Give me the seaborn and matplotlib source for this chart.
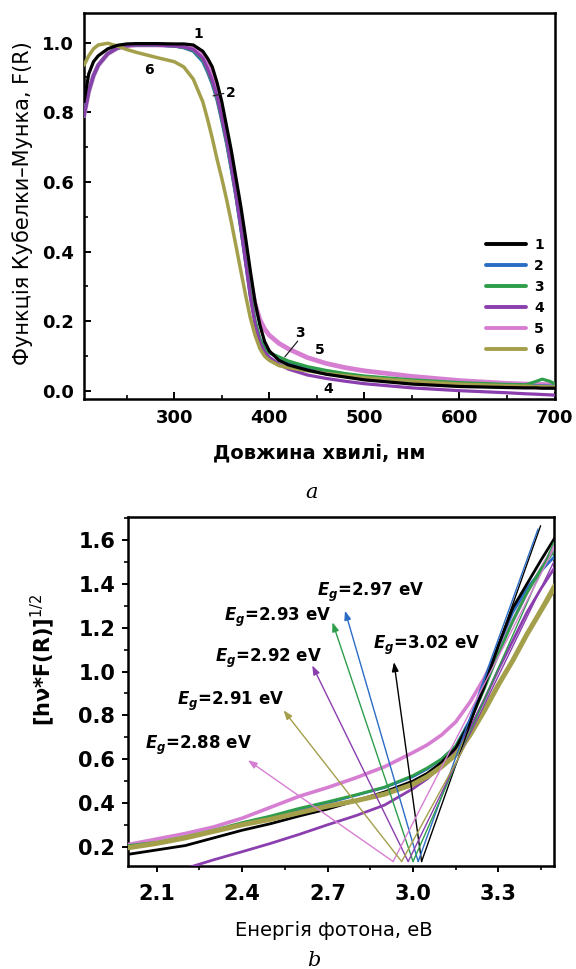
import numpy as np
import pandas as pd
import matplotlib
matplotlib.use("Agg")
import matplotlib.pyplot as plt
from matplotlib.ticker import MultipleLocator
import seaborn as sns

# ---------------- data: panel a ----------------
wavelength = [205, 210, 215, 220, 230, 240, 250, 260, 280, 300, 310, 320, 330, 335, 340,
              345, 350, 355, 360, 365, 370, 375, 380, 385, 390, 395, 400, 410, 420, 440,
              460, 480, 500, 550, 600, 650, 670, 680, 687, 695, 701]
fr_1 = [0.83, 0.91, 0.945, 0.962, 0.982, 0.992, 0.996, 0.997, 0.997, 0.996, 0.996, 0.993, 0.975, 0.955, 0.93,
        0.885, 0.83, 0.76, 0.69, 0.61, 0.53, 0.44, 0.345, 0.255, 0.19, 0.142, 0.115, 0.088, 0.075, 0.06,
        0.048, 0.04, 0.032, 0.02, 0.013, 0.01, 0.009, 0.009, 0.008, 0.008, 0.008]
fr_2 = [0.79, 0.86, 0.905, 0.935, 0.968, 0.984, 0.991, 0.993, 0.993, 0.99, 0.985, 0.975, 0.945, 0.915, 0.88,
        0.835, 0.775, 0.71, 0.635, 0.555, 0.465, 0.37, 0.275, 0.2, 0.15, 0.123, 0.11, 0.095, 0.082, 0.066,
        0.056, 0.048, 0.041, 0.03, 0.022, 0.017, 0.016, 0.015, 0.015, 0.014, 0.014]
fr_3 = [0.79, 0.86, 0.905, 0.935, 0.968, 0.984, 0.991, 0.993, 0.993, 0.99, 0.986, 0.978, 0.95, 0.92, 0.885,
        0.84, 0.78, 0.715, 0.64, 0.56, 0.47, 0.375, 0.28, 0.2, 0.148, 0.122, 0.11, 0.098, 0.086, 0.07,
        0.059, 0.05, 0.043, 0.032, 0.024, 0.019, 0.018, 0.027, 0.034, 0.028, 0.02]
fr_4 = [0.79, 0.86, 0.905, 0.935, 0.968, 0.984, 0.991, 0.993, 0.993, 0.99, 0.987, 0.98, 0.955, 0.925, 0.89,
        0.845, 0.785, 0.72, 0.645, 0.56, 0.47, 0.37, 0.27, 0.19, 0.14, 0.112, 0.097, 0.077, 0.063, 0.046,
        0.036, 0.028, 0.021, 0.009, 0.001, -0.005, -0.008, -0.009, -0.01, -0.011, -0.012]
fr_5 = [0.79, 0.86, 0.905, 0.935, 0.968, 0.984, 0.991, 0.993, 0.993, 0.992, 0.99, 0.985, 0.962, 0.94, 0.91,
        0.865, 0.805, 0.74, 0.665, 0.585, 0.495, 0.405, 0.315, 0.25, 0.205, 0.178, 0.16, 0.137, 0.121, 0.096,
        0.079, 0.067, 0.058, 0.042, 0.03, 0.022, 0.02, 0.019, 0.019, 0.018, 0.018]
fr_6 = [0.935, 0.962, 0.982, 0.993, 0.998, 0.99, 0.98, 0.972, 0.958, 0.945, 0.93, 0.895, 0.83, 0.78, 0.725,
        0.665, 0.61, 0.55, 0.485, 0.415, 0.345, 0.275, 0.21, 0.16, 0.122, 0.1, 0.088, 0.073, 0.067, 0.058,
        0.05, 0.044, 0.038, 0.028, 0.02, 0.015, 0.014, 0.013, 0.013, 0.012, 0.012]
sample_labels = ["1", "2", "3", "4", "5", "6"]

# curve number labels on panel a
num_text = ["1", "2", "6", "3", "5", "4"]
num_x = [325.2, 359.2, 272.9, 431.8, 453.5, 462.0]
num_y = [1.024, 0.856, 0.921, 0.166, 0.117, 0.006]
lead_x0 = [340.8, 416.3]
lead_y0 = [0.847, 0.098]
lead_x1 = [352.1, 429.8]
lead_y1 = [0.854, 0.143]

# ---------------- data: panel b ----------------
energy = [2.0, 2.1, 2.2, 2.3, 2.4, 2.5, 2.6, 2.7, 2.8, 2.9, 3.0, 3.05, 3.1, 3.15, 3.2,
          3.25, 3.3, 3.35, 3.4, 3.45, 3.5]
tauc_1 = [0.165, 0.185, 0.205, 0.24, 0.275, 0.305, 0.34, 0.372, 0.41, 0.45, 0.50, 0.535, 0.585, 0.65, 0.77,
          0.93, 1.12, 1.29, 1.40, 1.51, 1.615]
tauc_2 = [0.20, 0.215, 0.24, 0.27, 0.30, 0.335, 0.365, 0.40, 0.435, 0.47, 0.52, 0.555, 0.60, 0.66, 0.78,
          0.95, 1.12, 1.27, 1.38, 1.46, 1.53]
tauc_3 = [0.205, 0.22, 0.245, 0.275, 0.31, 0.34, 0.375, 0.405, 0.437, 0.472, 0.525, 0.56, 0.60, 0.66, 0.77,
          0.92, 1.08, 1.23, 1.36, 1.47, 1.56]
tauc_4 = [np.nan, np.nan, 0.10, 0.14, 0.177, 0.215, 0.256, 0.30, 0.342, 0.39, 0.465, 0.51, 0.57, 0.64, 0.74,
          0.87, 1.01, 1.14, 1.27, 1.38, 1.48]
tauc_5 = [0.21, 0.235, 0.26, 0.29, 0.33, 0.38, 0.43, 0.47, 0.515, 0.565, 0.63, 0.665, 0.71, 0.77, 0.86,
          0.97, 1.10, 1.23, 1.36, 1.47, 1.58]
tauc_6 = [0.195, 0.215, 0.24, 0.27, 0.30, 0.325, 0.355, 0.385, 0.41, 0.44, 0.485, 0.52, 0.565, 0.62, 0.71,
          0.82, 0.94, 1.05, 1.17, 1.28, 1.39]

# tangent (extrapolation) lines, order: samples 1..6
tan_e0 = [3.030, 3.018, 3.000, 2.983, 2.930, 2.960]
tan_y0 = [0.132, 0.132, 0.132, 0.132, 0.132, 0.132]
tan_e1 = [3.448, 3.439, 3.494, 3.494, 3.494, 3.494]
tan_y1 = [1.666, 1.651, 1.59, 1.50, 1.56, 1.40]
# arrows to the Eg labels
arr_e = [2.933, 2.761, 2.717, 2.646, 2.420, 2.545]
arr_y = [1.043, 1.278, 1.225, 1.028, 0.595, 0.823]
eg_values = ["3.02", "2.97", "2.93", "2.92", "2.88", "2.91"]
eg_text_e = [2.860, 2.664, 2.337, 2.305, 2.059, 2.170]
eg_text_y = [1.104, 1.346, 1.233, 1.043, 0.648, 0.845]

colors = ["#000000", "#2b6cc4", "#2e9e4a", "#8b3fae", "#d67fd2", "#a39f4b"]

# ---------------- style ----------------
sns.set_style("ticks")
plt.rcParams["font.family"] = ["DejaVu Sans"]
plt.rcParams["mathtext.fontset"] = "dejavusans"
for key in ["text.color", "axes.labelcolor", "xtick.color", "ytick.color", "axes.edgecolor"]:
    plt.rcParams[key] = "black"

fig = plt.figure(figsize=(5.76, 9.69), dpi=100)
ax1 = fig.add_axes([0.1458, 0.5882, 0.8177, 0.3981])
ax2 = fig.add_axes([0.2227, 0.1066, 0.7391, 0.3599])

# ---------------- panel a ----------------
fr_all = [fr_1, fr_2, fr_3, fr_4, fr_5, fr_6]
lw_a = [2.3, 2.3, 2.3, 2.3, 3.4, 2.5]
order_a = [4, 1, 2, 3, 5, 0]
lines_by_idx = {}
for i in order_a:
    df = pd.DataFrame({"w": wavelength, "f": fr_all[i]})
    sns.lineplot(data=df, x="w", y="f", ax=ax1, color=colors[i], lw=lw_a[i],
                 sort=False, label=sample_labels[i], zorder=3)
    lines_by_idx[i] = ax1.get_lines()[-1]

ax1.set_xlim(205, 700.5)
ax1.set_ylim(-0.023, 1.084)
ax1.xaxis.set_major_locator(MultipleLocator(100))
ax1.xaxis.set_minor_locator(MultipleLocator(50))
ax1.yaxis.set_major_locator(MultipleLocator(0.2))
ax1.yaxis.set_minor_locator(MultipleLocator(0.1))
ax1.tick_params(which="major", direction="in", length=5, width=1.4, labelsize=13, pad=7)
ax1.tick_params(which="minor", direction="in", length=3, width=1.2)
for lab in ax1.get_xticklabels() + ax1.get_yticklabels():
    lab.set_fontweight("bold")
for s in ax1.spines.values():
    s.set_linewidth(1.8)
    s.set_color("black")
    s.set_visible(True)

ax1.set_xlabel("Довжина хвилі, нм", fontsize=14, fontweight="bold")
ax1.xaxis.set_label_coords(0.5, -0.115)
ax1.set_ylabel("Функція Кубелки–Мунка, F(R)", fontsize=15)
ax1.yaxis.set_label_coords(-0.108, 0.507)

handles = [lines_by_idx[i] for i in range(6)]
leg = ax1.legend(handles=handles, labels=sample_labels, loc="upper left",
                 bbox_to_anchor=(0.853, 0.417), frameon=False, borderpad=0,
                 borderaxespad=0, handlelength=2.9, handletextpad=0.6,
                 labelspacing=0.5, prop={"weight": "bold", "size": 10})
for h in leg.get_lines():
    h.set_linewidth(2.8)

for t, x, y in zip(num_text, num_x, num_y):
    ax1.text(x, y, t, fontsize=10, fontweight="bold", ha="center", va="center", zorder=5)
for x0, y0, x1, y1 in zip(lead_x0, lead_y0, lead_x1, lead_y1):
    ax1.annotate("", xy=(x1, y1), xytext=(x0, y0),
                 arrowprops=dict(arrowstyle="-", lw=0.9, color="#222222",
                                 shrinkA=0, shrinkB=0), zorder=5)

# ---------------- panel b ----------------
tauc_all = [tauc_1, tauc_2, tauc_3, tauc_4, tauc_5, tauc_6]
lw_b = [2.0, 2.0, 2.0, 2.0, 2.6, 3.6]
order_b = [3, 4, 1, 2, 0, 5]
for i in order_b:
    df = pd.DataFrame({"e": energy, "v": tauc_all[i]}).dropna()
    sns.lineplot(data=df, x="e", y="v", ax=ax2, color=colors[i], lw=lw_b[i],
                 sort=False, zorder=3)

for i in range(6):
    df = pd.DataFrame({"e": [tan_e0[i], tan_e1[i]], "v": [tan_y0[i], tan_y1[i]]})
    sns.lineplot(data=df, x="e", y="v", ax=ax2, color=colors[i], lw=1.0,
                 sort=False, zorder=4)
    ax2.annotate("", xy=(arr_e[i], arr_y[i]), xytext=(tan_e0[i], tan_y0[i]),
                 arrowprops=dict(arrowstyle="-|>,head_length=0.6,head_width=0.22",
                                 lw=1.0, color=colors[i], shrinkA=0, shrinkB=0,
                                 mutation_scale=9), zorder=4)
    ax2.text(eg_text_e[i], eg_text_y[i],
             r"$\mathbfit{E}_{\mathbfit{g}}$=" + eg_values[i] + " eV",
             fontsize=12, fontweight="bold", ha="left", va="baseline", zorder=6)

ax2.set_xlim(2.0, 3.495)
ax2.set_ylim(0.113, 1.706)
ax2.xaxis.set_major_locator(MultipleLocator(0.3))
ax2.xaxis.set_minor_locator(MultipleLocator(0.15))
ax2.yaxis.set_major_locator(MultipleLocator(0.2))
ax2.yaxis.set_minor_locator(MultipleLocator(0.1))
ax2.set_xticks([2.1, 2.4, 2.7, 3.0, 3.3])
ax2.set_xticklabels(["2.1", "2.4", "2.7", "3.0", "3.3"])
ax2.tick_params(which="major", direction="out", length=4.5, width=1.4, labelsize=15)
ax2.tick_params(axis="x", which="major", pad=9)
ax2.tick_params(axis="y", which="major", pad=5)
ax2.tick_params(which="minor", direction="out", length=3, width=1.2)
for lab in ax2.get_xticklabels() + ax2.get_yticklabels():
    lab.set_fontweight("bold")
for s in ax2.spines.values():
    s.set_linewidth(1.8)
    s.set_color("black")
    s.set_visible(True)

ax2.set_xlabel("Енергія фотона, еВ", fontsize=14)
ax2.xaxis.set_label_coords(0.483, -0.158)
ax2.set_ylabel(r"[hν*F(R)]$^{1/2}$", fontsize=15, fontweight="bold")
ax2.yaxis.set_label_coords(-0.1675, 0.59)

fig.text(311.5 / 576, 1 - 492 / 969, "a", fontsize=15, style="italic",
         family="DejaVu Serif", ha="center", va="center")
fig.text(314 / 576, 1 - 960 / 969, "b", fontsize=15, style="italic",
         family="DejaVu Serif", ha="center", va="center")

fig.savefig("out.png", dpi=100)
